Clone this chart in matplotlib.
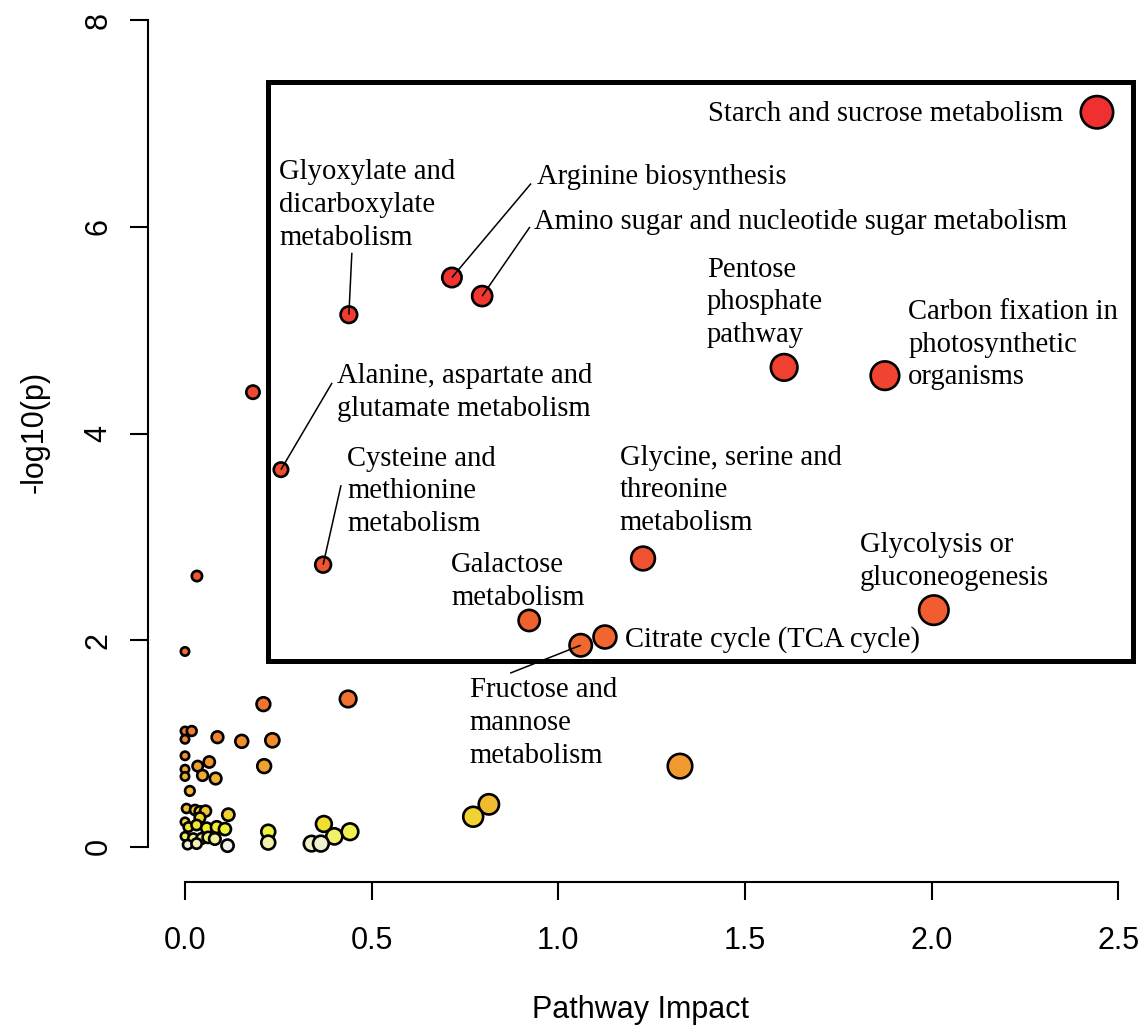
import colorsys
import numpy as np
import matplotlib
matplotlib.use("Agg")
import matplotlib.pyplot as plt
from matplotlib.patches import Rectangle

# ---------------- data ----------------
pathways = [
    "Starch and sucrose metabolism",
    "Arginine biosynthesis",
    "Amino sugar and nucleotide sugar metabolism",
    "Glyoxylate and\ndicarboxylate\nmetabolism",
    "Pentose\nphosphate\npathway",
    "Carbon fixation in\nphotosynthetic\norganisms",
    "Alanine, aspartate and\nglutamate metabolism",
    "Cysteine and\nmethionine\nmetabolism",
    "Glycine, serine and\nthreonine\nmetabolism",
    "Galactose\nmetabolism",
    "Fructose and\nmannose\nmetabolism",
    "Citrate cycle (TCA cycle)",
    "Glycolysis or\ngluconeogenesis",
]
labeled_impact = [2.443, 0.715, 0.796, 0.439, 1.605, 1.875, 0.257, 0.370,
                  1.227, 0.922, 1.060, 1.125, 2.006]
labeled_logp = [7.11, 5.51, 5.33, 5.15, 4.64, 4.56, 3.65, 2.73,
                2.79, 2.19, 1.95, 2.03, 2.29]

other_impact = [0.182, 0.032, 0.000, 0.210, 0.437, 1.326, 0.814, 0.772,
                0.000, 0.018, 0.000, 0.087, 0.152, 0.234, 0.000, 0.034,
                0.065, 0.000, 0.000, 0.047, 0.082, 0.212, 0.013,
                0.004, 0.027, 0.040, 0.055, 0.116, 0.040, 0.000, 0.009,
                0.031, 0.058, 0.085, 0.107, 0.000, 0.022, 0.045, 0.062,
                0.080, 0.007, 0.114, 0.031,
                0.223, 0.223, 0.372, 0.400, 0.442, 0.339, 0.364]
other_logp = [4.40, 2.62, 1.89, 1.38, 1.43, 0.78, 0.41, 0.29,
              1.12, 1.12, 1.04, 1.06, 1.02, 1.03, 0.88, 0.78,
              0.82, 0.75, 0.68, 0.69, 0.66, 0.78, 0.54,
              0.37, 0.355, 0.34, 0.345, 0.31, 0.28, 0.24, 0.19,
              0.21, 0.18, 0.19, 0.17, 0.10, 0.08, 0.08, 0.09,
              0.075, 0.02, 0.01, 0.03,
              0.145, 0.04, 0.22, 0.10, 0.145, 0.03, 0.03]

x_ticks = [0.0, 0.5, 1.0, 1.5, 2.0, 2.5]
x_ticklabels = ["0.0", "0.5", "1.0", "1.5", "2.0", "2.5"]
y_ticks = [0, 2, 4, 6, 8]
y_ticklabels = ["0", "2", "4", "6", "8"]

# annotation layout: (text x, text y, ha, leader end or None)
label_layout = [
    (2.352, 7.09, "right", None),
    (0.943, 6.48, "left", (0.927, 6.42)),
    (0.935, 6.05, "left", (0.924, 6.00)),
    (0.252, 6.21, "left", (0.447, 5.75)),
    (1.398, 5.27, "left", None),
    (1.937, 4.86, "left", None),
    (0.407, 4.40, "left", (0.394, 4.49)),
    (0.434, 3.44, "left", (0.418, 3.50)),
    (1.165, 3.45, "left", None),
    (0.713, 2.57, "left", None),
    (0.763, 1.20, "left", (0.871, 1.68)),
    (1.179, 2.01, "left", None),
    (1.808, 2.76, "left", None),
]

# ---------------- helpers ----------------
def heat_colors(n):
    j = n // 4
    i = n - j
    cols = []
    for k in range(i):
        h = (k / (i - 1)) * (1 / 6) if i > 1 else 0
        cols.append(colorsys.hsv_to_rgb(h, 1, 1))
    if j > 0:
        s_hi, s_lo = 1 - 1 / (2 * j), 1 / (2 * j)
        for k in range(j):
            s = s_hi - k * (s_hi - s_lo) / (j - 1) if j > 1 else s_hi
            cols.append(colorsys.hsv_to_rgb(1 / 6, s, 1))
    return cols


x = np.array(labeled_impact + other_impact)
y = np.array(labeled_logp + other_logp)
n = len(x)
order = np.argsort(-y, kind="stable")
base = heat_colors(n)
colors = [None] * n
for rank, idx in enumerate(order):
    r, g, b = base[rank]
    a = 0.8
    colors[idx] = tuple(0.94 * (a * c + (1 - a)) for c in (r, g, b))

# outer diameter in px, derived from impact
outer_px = 11 + 3.3 * x + 10.2 * np.sqrt(x)
edge_pt = 1.9
edge_px = edge_pt / 0.72
sizes = ((outer_px - edge_px) * 0.72) ** 2

# ---------------- figure ----------------
W, H = 1142, 1028
fig = plt.figure(figsize=(W / 100, H / 100), dpi=100)
ax_left_px, ax_bottom_px = 148, 882
ax = fig.add_axes([ax_left_px / W, (H - ax_bottom_px) / H,
                   (W - ax_left_px) / W, ax_bottom_px / H])

x0_px, xunit = 185.0, 373.3
y0_px, yunit = 846.7, 103.3
ax.set_xlim((ax_left_px - x0_px) / xunit, (W - x0_px) / xunit)
ax.set_ylim(-(ax_bottom_px - y0_px) / yunit, y0_px / yunit)

for s in ["top", "right"]:
    ax.spines[s].set_visible(False)
ax.spines["left"].set_bounds(0, 8)
ax.spines["bottom"].set_bounds(0, 2.5)
for s in ["left", "bottom"]:
    ax.spines[s].set_linewidth(1.5)

sans = "Liberation Sans"
serif = "Liberation Serif"

ax.set_xticks(x_ticks)
ax.set_xticklabels(x_ticklabels, fontsize=22, family=sans)
ax.set_yticks(y_ticks)
ax.set_yticklabels(y_ticklabels, fontsize=22, family=sans, rotation=90,
                   va="center")
ax.tick_params(axis="both", length=13, width=1.5)
ax.tick_params(axis="x", pad=19)
ax.tick_params(axis="y", pad=12)

ax.scatter(x, y, s=sizes, c=colors, edgecolors="black", linewidths=edge_pt,
           zorder=3, clip_on=False)

# box around labeled region
ax.add_patch(Rectangle((0.222, 1.80), 2.539 - 0.222, 7.40 - 1.80,
                       fill=False, lw=3.6, edgecolor="black", zorder=2))

for name, px, py, (tx, ty, ha, lead) in zip(pathways, labeled_impact,
                                            labeled_logp, label_layout):
    ax.text(tx, ty, name, ha=ha, va="center", fontsize=20.6, family=serif,
            linespacing=1.34, zorder=5)
    if lead is not None:
        ax.plot([px, lead[0]], [py, lead[1]], color="black", lw=1.1,
                zorder=4, solid_capstyle="butt")

fig.text(641 / W, 1 - 1010 / H, "Pathway Impact", ha="center", va="center",
         fontsize=22, family=sans)
fig.text(35 / W, 1 - 432 / H, "-log10(p)", ha="center", va="center",
         fontsize=22, family=sans, rotation=90)

fig.savefig("out.png", dpi=100)
